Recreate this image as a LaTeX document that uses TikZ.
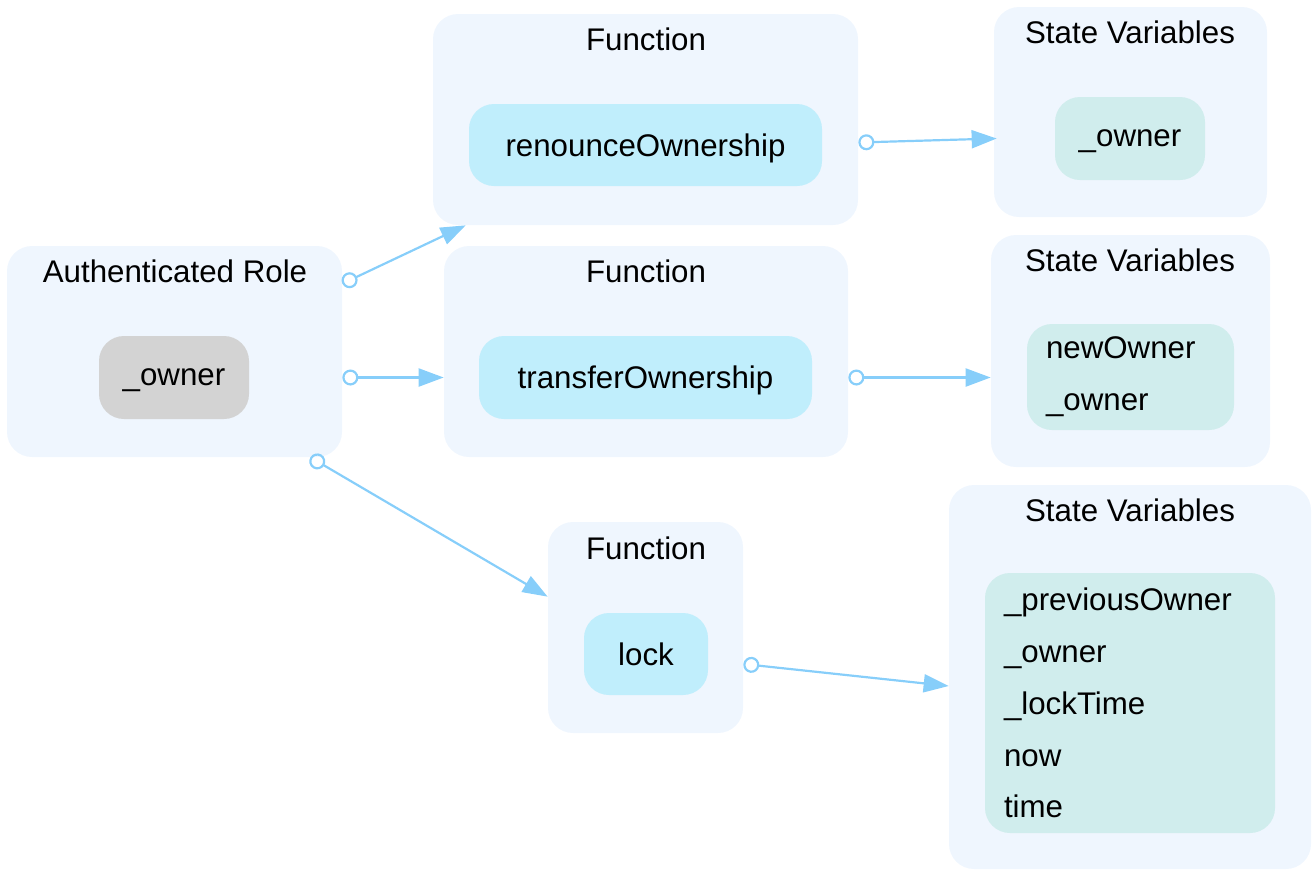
\documentclass[tikz,border=0pt]{standalone}
\usepackage{fontspec}
\setmainfont{Liberation Sans}
\usetikzlibrary{arrows.meta,calc}
\definecolor{clusterbg}{HTML}{EFF6FE}
\definecolor{funfill}{HTML}{C0EEFC}
\definecolor{varfill}{HTML}{D0EDED}
\definecolor{rolefill}{HTML}{D3D3D3}
\definecolor{linkcol}{HTML}{87CEFA}
\begin{document}
\begin{tikzpicture}[
    every node/.style={font=\fontsize{17.8}{29.5}\selectfont, inner sep=0pt},
    cluster/.style={fill=clusterbg, rounded corners=0.5cm},
    funbox/.style={fill=funfill, rounded corners=0.5cm, minimum height=1.64cm, text depth=0pt},
    varbox/.style={fill=varfill, rounded corners=0.5cm, inner xsep=0.38cm, align=left},
    rolebox/.style={fill=rolefill, rounded corners=0.5cm, minimum height=1.66cm, text depth=0pt},
    link/.style={draw=linkcol, line width=1.25pt,
        {Circle[open, length=0.32cm]}-{Triangle[length=0.5cm, width=0.36cm]}}
  ]
    \useasboundingbox (0,0) rectangle (26.28,-17.4);

    \node[cluster, minimum width=6.7cm, minimum height=4.22cm] (role) at (3.49,-7.03) {};
    \node[cluster, minimum width=8.5cm, minimum height=4.22cm] (fun1) at (12.91,-2.39) {};
    \node[cluster, minimum width=8.08cm, minimum height=4.22cm] (fun2) at (12.92,-7.03) {};
    \node[cluster, minimum width=3.9cm, minimum height=4.22cm] (fun3) at (12.91,-12.55) {};
    \node[cluster, minimum width=5.46cm, minimum height=4.2cm] (var1) at (22.61,-2.24) {};
    \node[cluster, minimum width=5.58cm, minimum height=4.64cm] (var2) at (22.61,-7.02) {};
    \node[cluster, minimum width=7.24cm, minimum height=7.68cm] (var3) at (22.6,-13.54) {};

    \node (trole) at (3.5,-5.42) {Authenticated Role};
    \node (tfun1) at (12.92,-0.78) {Function};
    \node (tfun2) at (12.92,-5.42) {Function};
    \node (tfun3) at (12.92,-10.96) {Function};
    \node (tvar1) at (22.6,-0.64) {State Variables};
    \node (tvar2) at (22.6,-5.2) {State Variables};
    \node (tvar3) at (22.6,-10.2) {State Variables};

    \node[rolebox, minimum width=3cm] (owner) at (3.48,-7.55) {\_owner};
    \node[funbox, minimum width=7.06cm] (renounce) at (12.91,-2.9) {renounceOwnership};
    \node[funbox, minimum width=6.66cm, minimum height=1.66cm] (transfer) at (12.91,-7.55) {transferOwnership};
    \node[funbox, minimum width=2.48cm] (lock) at (12.92,-13.08) {lock};
    \node[varbox, align=center, text depth=0pt, minimum width=3cm, minimum height=1.66cm] (vowner) at (22.6,-2.77) {\_owner};
    \node[varbox, text width=3.38cm, minimum height=2.12cm] (vtransfer) at (22.61,-7.54) {newOwner\\\_owner};
    \node[varbox, text width=5.04cm, minimum height=5.2cm] (vlock) at (22.6,-14.06) {\_previousOwner\\\_owner\\\_lockTime\\now\\time};

    \draw[link] ($(role.north east)+(0,-0.76)$) -- ($(fun1.south west)+(0.66,0)$);
    \draw[link] (role.east |- owner) -- (fun2.west |- transfer);
    \draw[link] ($(role.south east)+(-0.64,0)$) -- ($(fun3.north west)+(0,-1.5)$);
    \draw[link] ($(fun1.east)+(0,-0.46)$) -- ($(var1.west |- vowner)+(0.06,0)$);
    \draw[link] (fun2.east |- transfer) -- (var2.west |- transfer);
    \draw[link] ($(fun3.east)+(0,-0.73)$) -- ($(var3.west)+(0,-0.18)$);
\end{tikzpicture}
\end{document}
